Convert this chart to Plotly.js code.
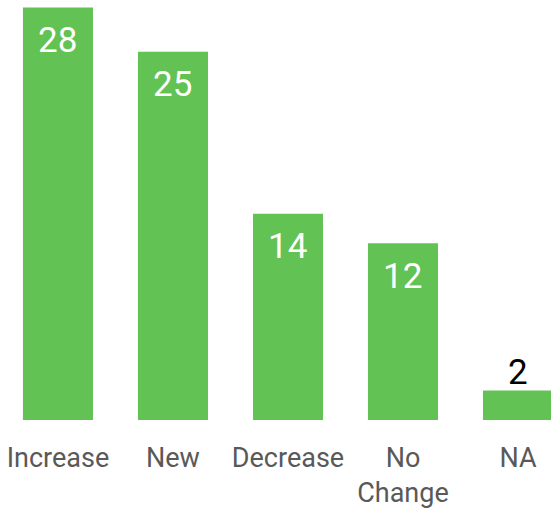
<!DOCTYPE html>
<html><head><meta charset="utf-8">
<script src="https://cdn.plot.ly/plotly-3.0.1.min.js"></script>
<style>html,body{margin:0;padding:0;background:#fff}#chart{width:551px;height:516px}</style>
</head><body><div id="chart"></div>
<script>
var categories = ["Increase", "New", "Decrease", "No<br>Change", "NA"];
var values = [28, 25, 14, 12, 2];
var labelInside = [true, true, true, true, false];

var barColor = "#62c253";

var annotations = values.map(function(v, i){
  return {
    x: categories[i], y: v, xref: 'x', yref: 'y',
    text: String(v), showarrow: false,
    yshift: labelInside[i] ? -33 : 18,
    font: {family: 'Roboto, Arial, sans-serif', size: 35, color: labelInside[i] ? '#ffffff' : '#000000'}
  };
});

var data = [{
  type: 'bar', x: categories, y: values,
  marker: {color: barColor},
  hoverinfo: 'none'
}];

var layout = {
  width: 551, height: 516,
  margin: {l: 0, r: 0, t: 0, b: 96},
  paper_bgcolor: '#fff', plot_bgcolor: '#fff',
  bargap: 0.391,
  showlegend: false,
  xaxis: {
    range: [-0.504, 4.287], showgrid: false, zeroline: false, showline: false,
    ticks: '', ticklabelstandoff: 19, tickangle: 0, automargin: false,
    tickfont: {family: 'Roboto, sans-serif', size: 27, color: '#595959', lineposition: 'none'}
  },
  yaxis: {range: [0, 28.51], visible: false, showgrid: false, zeroline: false},
  annotations: annotations
};

Plotly.newPlot('chart', data, layout, {displayModeBar: false, staticPlot: true});
</script></body></html>
